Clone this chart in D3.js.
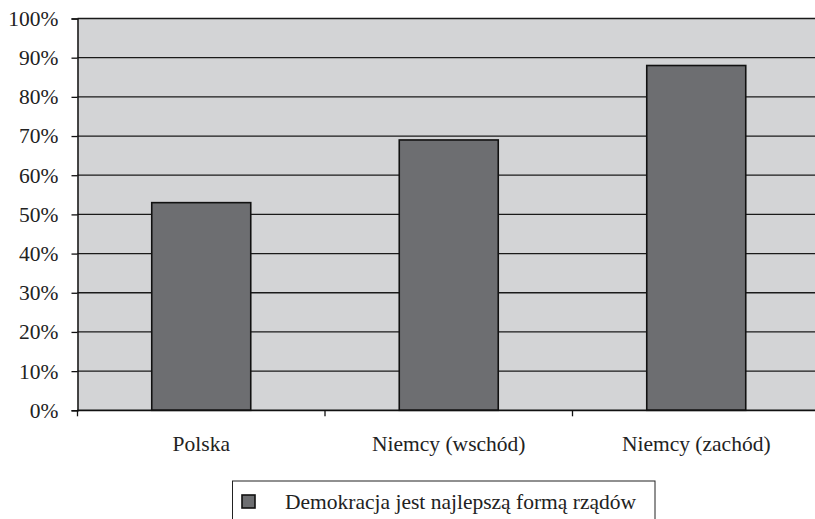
<!doctype html>
<html>
<head>
	<meta charset="utf-8">
	<style>
		body{margin:0;background:#fff;}
		svg{display:block;}
		text{font-family:"Liberation Serif","DejaVu Serif",serif;fill:#222;}
	</style>
</head>
<body>
	<div id="chart"></div>
	<script src="https://d3js.org/d3.v7.min.js"></script>
	<script>
		var categories = ['Polska', 'Niemcy (wschód)', 'Niemcy (zachód)'];
		var values = [53, 69, 88];
		var yTicks = [0, 10, 20, 30, 40, 50, 60, 70, 80, 90, 100];
		var seriesName = 'Demokracja jest najlepszą formą rządów';

		var W = 815, H = 519;
		var margin = {left: 77.5, right: 820, top: 18.5, bottom: 410.3};
		var FONT = 21.5;
		var SERIF = '"Liberation Serif", "DejaVu Serif", serif';

		var svg = d3.select('#chart').append('svg')
			.attr('width', W)
			.attr('height', H);

		var x = d3.scaleBand()
			.domain(categories)
			.range([margin.left, margin.right])
			.paddingInner(0.6)
			.paddingOuter(0.3);

		var y = d3.scaleLinear()
			.domain([0, 100])
			.range([margin.bottom, margin.top]);

		// plot background
		svg.append('rect')
			.attr('x', margin.left)
			.attr('y', margin.top)
			.attr('width', margin.right - margin.left)
			.attr('height', margin.bottom - margin.top)
			.attr('fill', '#d3d4d6');

		// gridlines
		svg.append('g')
			.selectAll('line')
			.data(yTicks.filter(function(d){ return d > 0; }))
			.enter().append('line')
			.attr('x1', margin.left)
			.attr('x2', margin.right)
			.attr('y1', function(d){ return y(d); })
			.attr('y2', function(d){ return y(d); })
			.attr('stroke', '#1a1a1a')
			.attr('stroke-width', 1.3);

		// bars
		svg.append('g')
			.selectAll('rect')
			.data(values)
			.enter().append('rect')
			.attr('x', function(d, i){ return x(categories[i]); })
			.attr('y', function(d){ return y(d); })
			.attr('width', x.bandwidth())
			.attr('height', function(d){ return margin.bottom - y(d); })
			.attr('fill', '#6d6e71')
			.attr('stroke', '#111')
			.attr('stroke-width', 1.6);

		// y axis
		var yAxis = d3.axisLeft(y)
			.tickValues(yTicks)
			.tickSize(6)
			.tickPadding(13)
			.tickFormat(function(d){ return d + '%'; });

		var gy = svg.append('g')
			.attr('transform', 'translate(' + margin.left + ',0)')
			.call(yAxis);
		gy.select('.domain').attr('stroke', '#111').attr('stroke-width', 1.5);
		gy.selectAll('.tick line').attr('stroke', '#111').attr('stroke-width', 1.3);
		gy.selectAll('.tick text')
			.attr('font-family', SERIF)
			.attr('font-size', FONT)
			.attr('fill', '#2a2a2a');

		// x axis
		var edges = categories.map(function(c){ return x(c) - x.step() * 0.3; });
		edges.push(margin.right);

		var gx = svg.append('g');
		gx.append('line')
			.attr('x1', margin.left)
			.attr('x2', margin.right)
			.attr('y1', margin.bottom)
			.attr('y2', margin.bottom)
			.attr('stroke', '#111')
			.attr('stroke-width', 1.8);
		gx.selectAll('line.tk')
			.data(edges)
			.enter().append('line')
			.attr('class', 'tk')
			.attr('x1', function(d){ return d; })
			.attr('x2', function(d){ return d; })
			.attr('y1', margin.bottom)
			.attr('y2', margin.bottom + 6)
			.attr('stroke', '#111')
			.attr('stroke-width', 1.3);
		gx.selectAll('text')
			.data(categories)
			.enter().append('text')
			.attr('x', function(d){ return x(d) + x.bandwidth() / 2; })
			.attr('y', 450.5)
			.attr('text-anchor', 'middle')
			.attr('font-family', SERIF)
			.attr('font-size', FONT)
			.text(function(d){ return d; });

		// legend
		var lg = svg.append('g');
		lg.append('rect')
			.attr('x', 232.5)
			.attr('y', 481)
			.attr('width', 422.5)
			.attr('height', 60)
			.attr('fill', '#fff')
			.attr('stroke', '#222')
			.attr('stroke-width', 1);
		lg.append('rect')
			.attr('x', 242)
			.attr('y', 495)
			.attr('width', 13)
			.attr('height', 13)
			.attr('fill', '#6d6e71')
			.attr('stroke', '#111')
			.attr('stroke-width', 1.6);
		lg.append('text')
			.attr('x', 285)
			.attr('y', 508.5)
			.attr('font-family', SERIF)
			.attr('font-size', FONT)
			.text(seriesName);
	</script>
</body>
</html>
